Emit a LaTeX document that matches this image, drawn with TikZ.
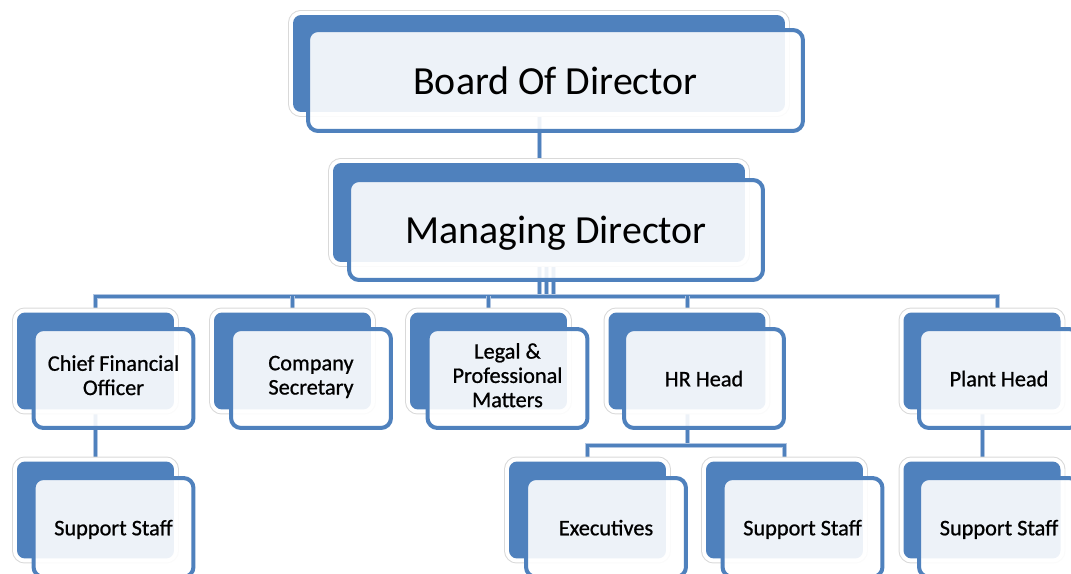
\documentclass[tikz,border=0pt]{standalone}
\usepackage{fontspec}
\setmainfont{Carlito}
\usepackage{tikz}
\usetikzlibrary{backgrounds}
\definecolor{myblue}{RGB}{79, 129, 189}
\definecolor{mylightblue}{RGB}{178, 198, 226}
\newcommand{\boxstrut}{\rule[-0.3em]{0pt}{1.3em}}
\tikzset{>=latex,
  backbox/.style={fill=myblue, rounded corners=0.16cm, inner sep=0pt,
    minimum width=3.14cm, minimum height=1.94cm,
    preaction={draw=black!15, line width=0.2cm},
    preaction={draw=white, line width=0.16cm}},
  frontbox/.style={draw=myblue, line width=0.08cm, fill=white, fill opacity=0.9,
    text opacity=1, rounded corners=0.2cm, inner sep=0pt, align=center,
    minimum width=3.2cm, minimum height=1.98cm,
    execute at begin node=\boxstrut, execute at end node=\boxstrut,
    font=\fontsize{12.7}{13.8}\selectfont\addfontfeatures{FakeBold=0.8}},
  bigfont/.style={font=\fontsize{22.7}{27}\selectfont},
  link/.style={draw=myblue, line width=0.06cm,
    preaction={draw=mylightblue, line width=0.1cm}}}

\begin{document}
\begin{tikzpicture}[x=0.02cm, y=-0.02cm]
\useasboundingbox (0,0) rectangle (1071,574);
\clip (0,0) rectangle (1071,574);

\node[backbox, minimum width=9.84cm] (bod-b) at (539, 63.5) {};
\node[frontbox, bigfont, minimum width=9.9cm, minimum height=2.02cm] (bod) at (555.5, 80.5) {Board Of Director};

\node[backbox, minimum width=8.24cm, minimum height=1.98cm] (md-b) at (539, 212.5) {};
\node[frontbox, bigfont, minimum width=8.28cm, minimum height=2cm] (md) at (556, 230) {Managing Director};

\node[backbox] (cfo-b) at (95.5, 361) {};
\node[frontbox] (cfo) at (113.5, 378.5) {Chief Financial\\Officer};
\node[backbox] (cs-b) at (292.5, 361) {};
\node[frontbox] (cs) at (311, 378.5) {Company\\Secretary};
\node[backbox] (legal-b) at (488.5, 361) {};
\node[frontbox] (legal) at (507.5, 378.5) {Legal \&\\Professional\\Matters};
\node[backbox] (hr-b) at (687, 361) {};
\node[frontbox] (hr) at (704, 378.5) {HR Head};
\node[backbox] (plant-b) at (982, 361) {};
\node[frontbox] (plant) at (999, 378.5) {Plant Head};

\node[backbox] (ss1-b) at (95.5, 510) {};
\node[frontbox] (ss1) at (113.5, 527.5) {Support Staff};
\node[backbox] (exe-b) at (587.5, 510) {};
\node[frontbox] (exe) at (606, 527.5) {Executives};
\node[backbox] (ss2-b) at (784.5, 510) {};
\node[frontbox] (ss2) at (802.5, 527.5) {Support Staff};
\node[backbox] (ss3-b) at (982, 510) {};
\node[frontbox] (ss3) at (999, 527.5) {Support Staff};

\coordinate (bus) at (0, 296);
\coordinate (bus2) at (0, 445);
\coordinate (md-1) at ([xshift=0.14cm]md-b.south);
\coordinate (md-2) at ([xshift=0.28cm]md-b.south);
\coordinate (pl) at ([xshift=0.3cm]plant-b.north);

\begin{scope}[on background layer]
\draw[link] (bod-b.south) -- (md-b.north);
\foreach \c in {md-b.south, md-1, md-2}
  \draw[link] (\c) -- (\c |- bus);
\draw[link] (cfo-b.north) |- (pl |- bus) -- (pl);
\foreach \n in {cs, legal, hr}
  \draw[link] (\n-b.north) -- (\n-b.north |- bus);
\draw[link] (cfo-b.south) -- (ss1-b.north);
\draw[link] (hr-b.south) -- (hr-b.south |- bus2);
\draw[link] (exe-b.north) |- (ss2-b.north |- bus2) -- (ss2-b.north);
\draw[link] (plant-b.south) -- (ss3-b.north);
\end{scope}
\end{tikzpicture}
\end{document}
